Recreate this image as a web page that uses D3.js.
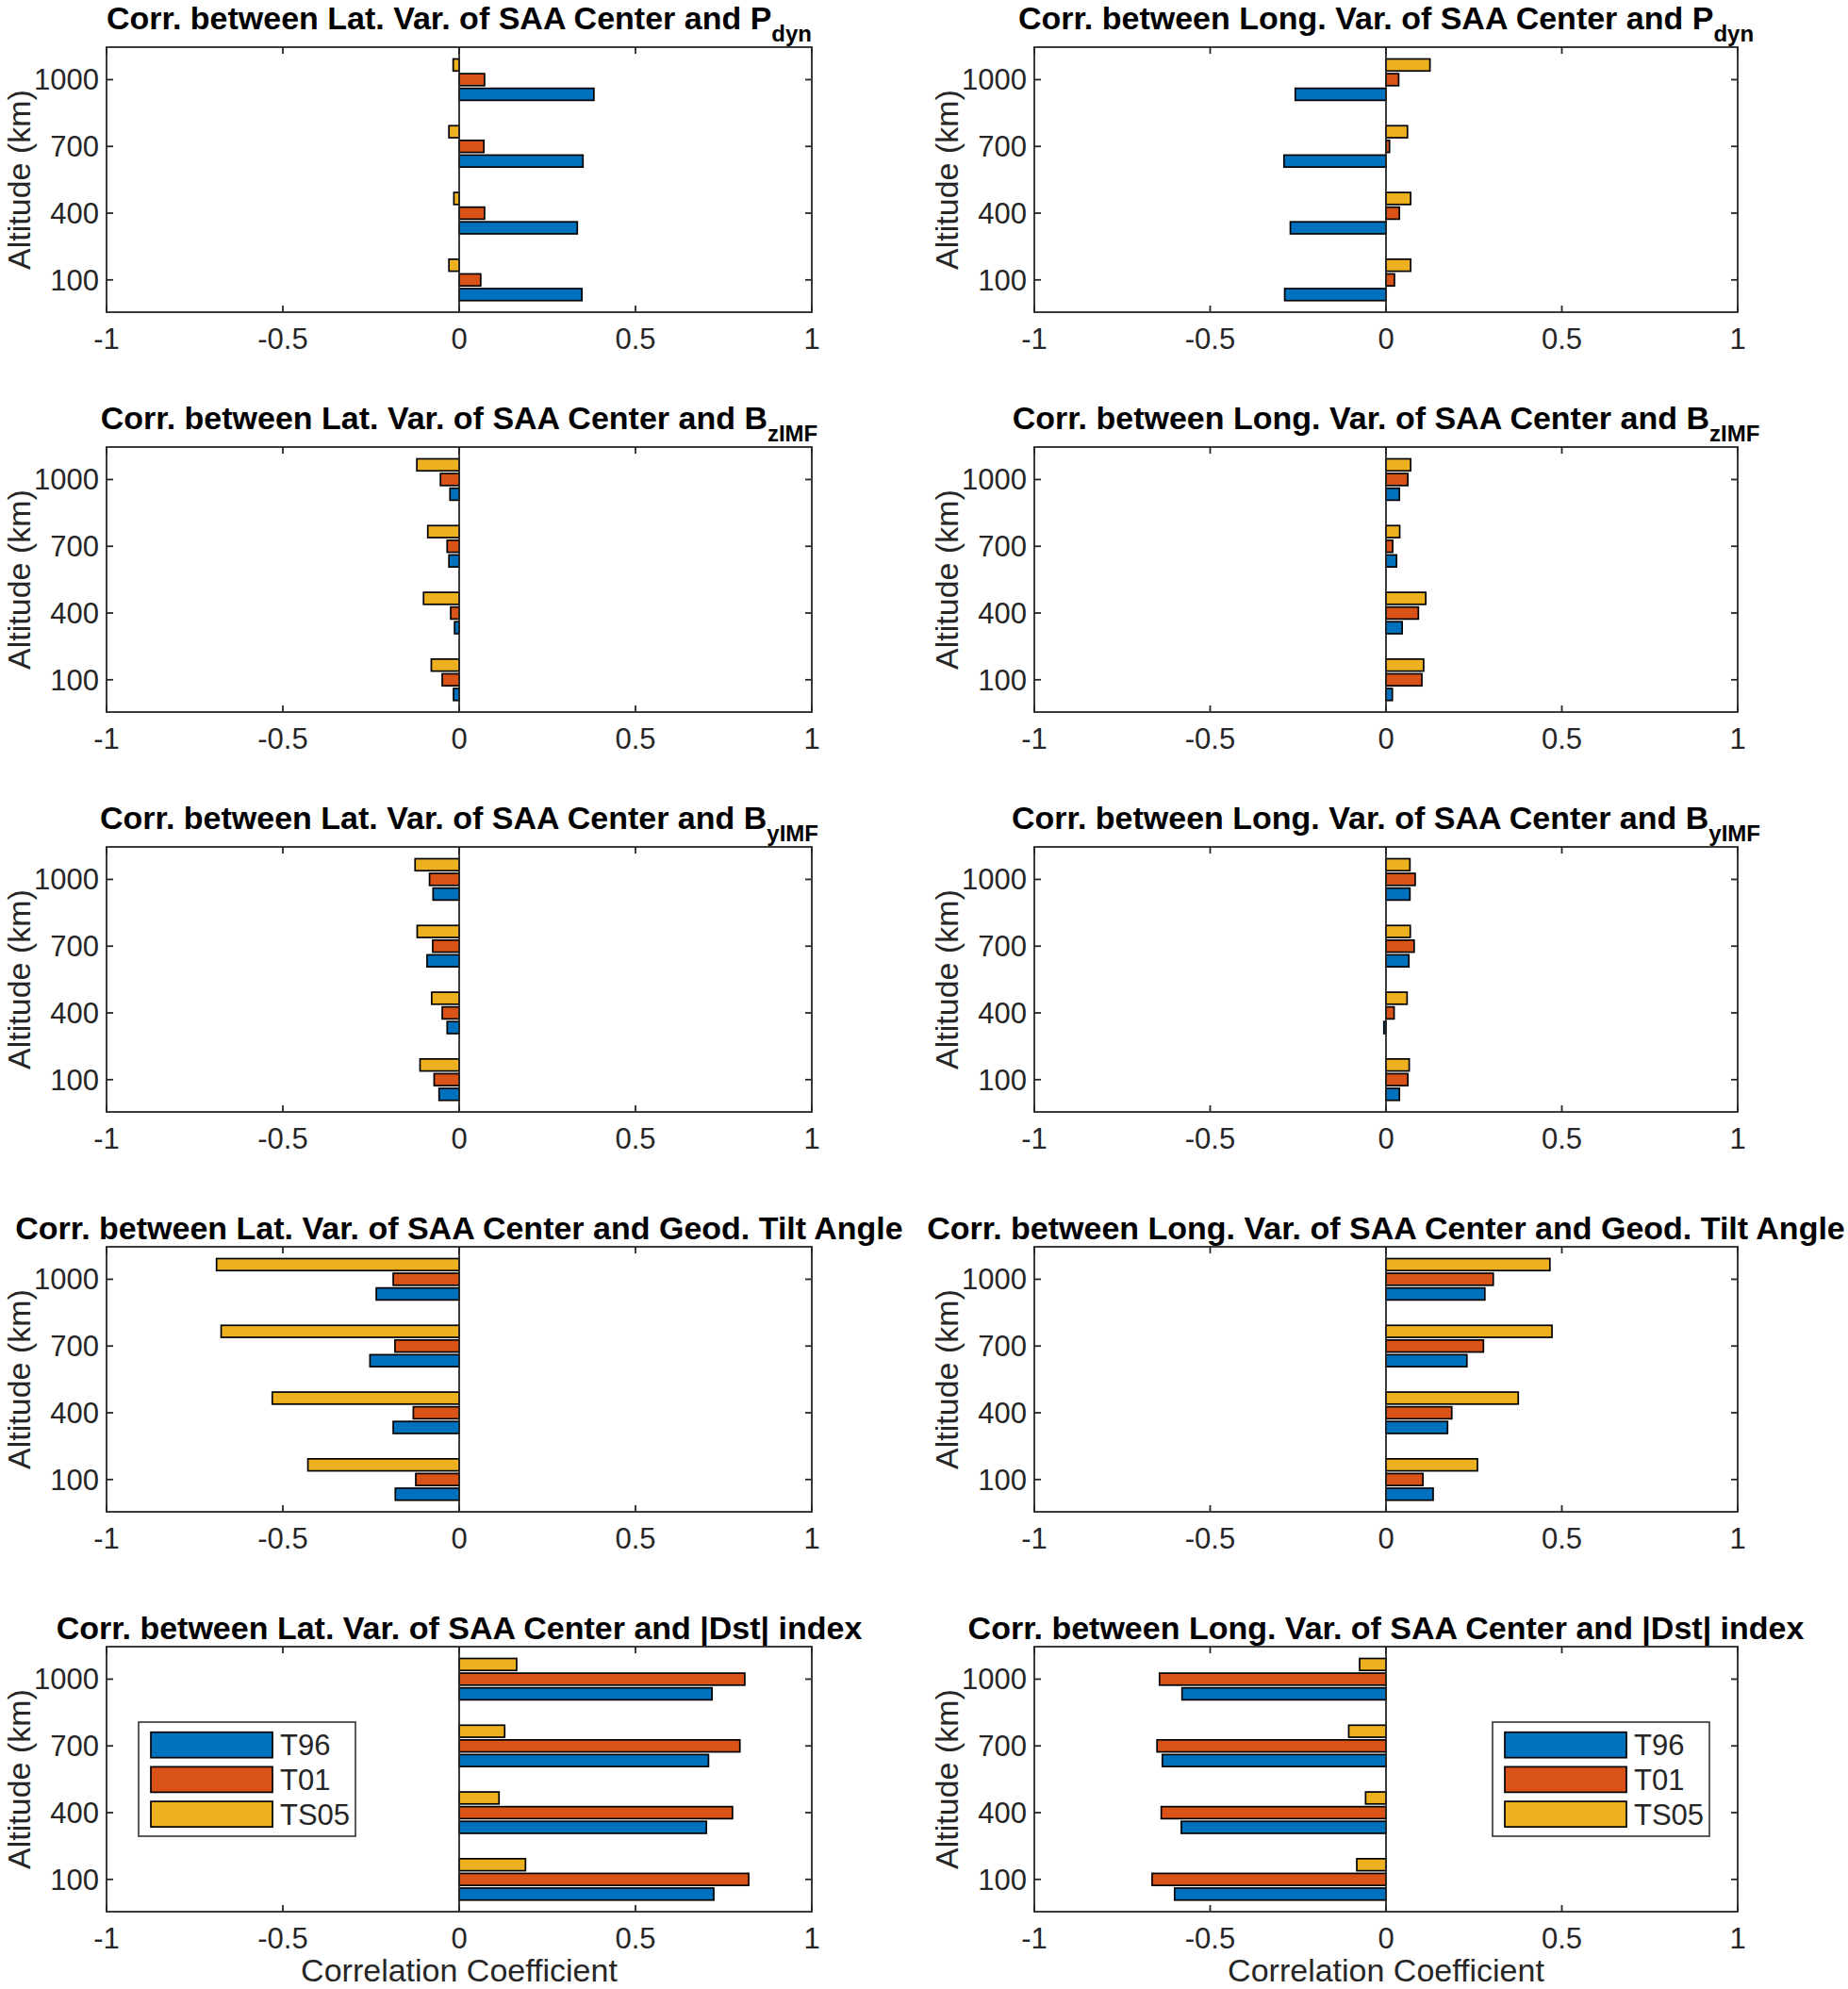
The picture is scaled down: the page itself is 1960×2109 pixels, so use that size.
<!DOCTYPE html>
<html>
<head>
<meta charset="utf-8">
<script src="https://d3js.org/d3.v7.min.js"></script>
<style>
  html, body { margin: 0; padding: 0; background: #ffffff; }
  svg { display: block; }
</style>
</head>
<body>
<script>
// ---------------- DATA ----------------
const altitudes = [100, 400, 700, 1000];
const xTicks = [-1, -0.5, 0, 0.5, 1];
const xTickLabels = ["-1", "-0.5", "0", "0.5", "1"];
const seriesNames = ["T96", "T01", "TS05"];

// values per altitude [100, 400, 700, 1000]
const latPdynT96  = [0.348, 0.335, 0.351, 0.382];
const latPdynT01  = [0.061, 0.072, 0.070, 0.072];
const latPdynTS05 = [-0.029, -0.015, -0.029, -0.017];

const lonPdynT96  = [-0.288, -0.272, -0.290, -0.258];
const lonPdynT01  = [0.024, 0.038, 0.010, 0.036];
const lonPdynTS05 = [0.070, 0.070, 0.061, 0.125];

const latBzT96  = [-0.016, -0.013, -0.029, -0.026];
const latBzT01  = [-0.048, -0.024, -0.034, -0.053];
const latBzTS05 = [-0.079, -0.101, -0.089, -0.120];

const lonBzT96  = [0.018, 0.046, 0.030, 0.038];
const lonBzT01  = [0.102, 0.092, 0.019, 0.062];
const lonBzTS05 = [0.107, 0.113, 0.039, 0.070];

const latByT96  = [-0.057, -0.034, -0.091, -0.074];
const latByT01  = [-0.071, -0.048, -0.075, -0.084];
const latByTS05 = [-0.111, -0.078, -0.119, -0.125];

const lonByT96  = [0.038, -0.006, 0.065, 0.068];
const lonByT01  = [0.062, 0.023, 0.080, 0.083];
const lonByTS05 = [0.066, 0.060, 0.069, 0.068];

const latTiltT96  = [-0.181, -0.187, -0.253, -0.235];
const latTiltT01  = [-0.123, -0.130, -0.182, -0.187];
const latTiltTS05 = [-0.429, -0.530, -0.675, -0.688];

const lonTiltT96  = [0.134, 0.175, 0.230, 0.281];
const lonTiltT01  = [0.105, 0.187, 0.277, 0.305];
const lonTiltTS05 = [0.260, 0.376, 0.472, 0.466];

const latDstT96  = [0.722, 0.701, 0.707, 0.717];
const latDstT01  = [0.821, 0.775, 0.796, 0.810];
const latDstTS05 = [0.188, 0.113, 0.129, 0.163];

const lonDstT96  = [-0.601, -0.582, -0.636, -0.580];
const lonDstT01  = [-0.665, -0.639, -0.651, -0.644];
const lonDstTS05 = [-0.083, -0.058, -0.106, -0.075];

const titleMains = [
  ["Corr. between Lat. Var. of SAA Center and P", "Corr. between Long. Var. of SAA Center and P"],
  ["Corr. between Lat. Var. of SAA Center and B", "Corr. between Long. Var. of SAA Center and B"],
  ["Corr. between Lat. Var. of SAA Center and B", "Corr. between Long. Var. of SAA Center and B"],
  ["Corr. between Lat. Var. of SAA Center and Geod. Tilt Angle", "Corr. between Long. Var. of SAA Center and Geod. Tilt Angle"],
  ["Corr. between Lat. Var. of SAA Center and |Dst| index", "Corr. between Long. Var. of SAA Center and |Dst| index"]
];
const titleSubs = ["dyn", "zIMF", "yIMF", "", ""];
const yLabel = "Altitude (km)";
const xLabel = "Correlation Coefficient";

const panelData = [
  [[latPdynT96, latPdynT01, latPdynTS05], [lonPdynT96, lonPdynT01, lonPdynTS05]],
  [[latBzT96, latBzT01, latBzTS05],       [lonBzT96, lonBzT01, lonBzTS05]],
  [[latByT96, latByT01, latByTS05],       [lonByT96, lonByT01, lonByTS05]],
  [[latTiltT96, latTiltT01, latTiltTS05], [lonTiltT96, lonTiltT01, lonTiltTS05]],
  [[latDstT96, latDstT01, latDstTS05],    [lonDstT96, lonDstT01, lonDstTS05]]
];

// ---------------- STYLE / LAYOUT ----------------
const colors = ["#0072BD", "#D95319", "#EDB120"];
const axisColor = "#262626";
const fontFam = "'Liberation Sans', Arial, Helvetica, sans-serif";
const W = 1960, H = 2109;
const rowTops = [50, 474, 898, 1322, 1746];
const plotH = 281;
const colLefts = [113, 1097];
const colWidths = [748, 746];
const yDomain = [-45, 1146];
const barOffsetKm = 66;
const barThickKm = 54;
const tickLen = 7;

const svg = d3.select("body").append("svg")
  .attr("width", W).attr("height", H)
  .attr("viewBox", `0 0 ${W} ${H}`);
svg.append("rect").attr("width", W).attr("height", H).attr("fill", "#fff");

function drawPanel(r, c) {
  const left = colLefts[c], top = rowTops[r];
  const width = colWidths[c], bottom = top + plotH, right = left + width;
  const x = d3.scaleLinear().domain([-1, 1]).range([left, right]);
  const y = d3.scaleLinear().domain(yDomain).range([bottom, top]);
  const g = svg.append("g");
  const data = panelData[r][c];

  // bars
  data.forEach((vals, si) => {
    const off = (si - 1) * barOffsetKm;
    g.append("g").selectAll("rect")
      .data(altitudes.map((a, i) => ({ alt: a, v: vals[i] })))
      .join("rect")
      .attr("x", d => x(Math.min(0, d.v)))
      .attr("width", d => Math.abs(x(d.v) - x(0)))
      .attr("y", d => y(d.alt + off + barThickKm / 2))
      .attr("height", d => y(d.alt + off - barThickKm / 2) - y(d.alt + off + barThickKm / 2))
      .attr("fill", colors[si])
      .attr("stroke", "#000")
      .attr("stroke-width", 1.7);
  });

  // baseline at zero
  g.append("line")
    .attr("x1", x(0)).attr("x2", x(0))
    .attr("y1", top).attr("y2", bottom)
    .attr("stroke", axisColor).attr("stroke-width", 1.8);

  // box
  g.append("rect")
    .attr("x", left).attr("y", top).attr("width", width).attr("height", plotH)
    .attr("fill", "none").attr("stroke", axisColor).attr("stroke-width", 1.8);

  // x ticks (bottom & top, inward)
  const xt = g.append("g");
  xTicks.forEach((t, i) => {
    xt.append("line").attr("x1", x(t)).attr("x2", x(t)).attr("y1", bottom).attr("y2", bottom - tickLen)
      .attr("stroke", axisColor).attr("stroke-width", 1.8);
    xt.append("line").attr("x1", x(t)).attr("x2", x(t)).attr("y1", top).attr("y2", top + tickLen)
      .attr("stroke", axisColor).attr("stroke-width", 1.8);
    xt.append("text").attr("x", x(t)).attr("y", bottom + 39)
      .attr("text-anchor", "middle")
      .style("font-family", fontFam).style("font-size", "31px").attr("fill", axisColor)
      .text(xTickLabels[i]);
  });

  // y ticks (left & right, inward)
  const yt = g.append("g");
  altitudes.forEach(a => {
    yt.append("line").attr("x1", left).attr("x2", left + tickLen).attr("y1", y(a)).attr("y2", y(a))
      .attr("stroke", axisColor).attr("stroke-width", 1.8);
    yt.append("line").attr("x1", right).attr("x2", right - tickLen).attr("y1", y(a)).attr("y2", y(a))
      .attr("stroke", axisColor).attr("stroke-width", 1.8);
    yt.append("text").attr("x", left - 8).attr("y", y(a) + 11)
      .attr("text-anchor", "end")
      .style("font-family", fontFam).style("font-size", "31px").attr("fill", axisColor)
      .text(a);
  });

  // y label
  g.append("text")
    .attr("transform", `translate(${left - 81},${(top + bottom) / 2}) rotate(-90)`)
    .attr("text-anchor", "middle")
    .style("font-family", fontFam).style("font-size", "34px").attr("fill", axisColor)
    .text(yLabel);

  // title
  const hasSub = !!titleSubs[r];
  const tt = g.append("text")
    .attr("x", (left + right) / 2).attr("y", hasSub ? top - 19 : top - 8)
    .attr("text-anchor", "middle")
    .style("font-family", fontFam).style("font-size", "34px").style("font-weight", "bold")
    .attr("fill", "#000");
  tt.append("tspan").text(titleMains[r][c]);
  if (hasSub) {
    tt.append("tspan").attr("dy", 13).style("font-size", "24px").text(titleSubs[r]);
  }

  // x label & legend on last row
  if (r === rowTops.length - 1) {
    g.append("text")
      .attr("x", (left + right) / 2).attr("y", bottom + 74)
      .attr("text-anchor", "middle")
      .style("font-family", fontFam).style("font-size", "34px").attr("fill", axisColor)
      .text(xLabel);

    const lx = c === 0 ? left + 34 : left + 486;
    const ly = top + 80;
    const lg = g.append("g");
    lg.append("rect").attr("x", lx).attr("y", ly).attr("width", 230).attr("height", 121)
      .attr("fill", "#fff").attr("stroke", axisColor).attr("stroke-width", 1.5);
    seriesNames.forEach((nm, i) => {
      const sy = ly + 10.7 + i * 36.7;
      lg.append("rect").attr("x", lx + 13).attr("y", sy).attr("width", 129).attr("height", 27)
        .attr("fill", colors[i]).attr("stroke", "#000").attr("stroke-width", 1.7);
      lg.append("text").attr("x", lx + 150).attr("y", sy + 13.5 + 11)
        .style("font-family", fontFam).style("font-size", "31px").attr("fill", axisColor)
        .text(nm);
    });
  }
}

for (let r = 0; r < rowTops.length; r++) {
  for (let c = 0; c < 2; c++) drawPanel(r, c);
}
</script>
</body>
</html>
